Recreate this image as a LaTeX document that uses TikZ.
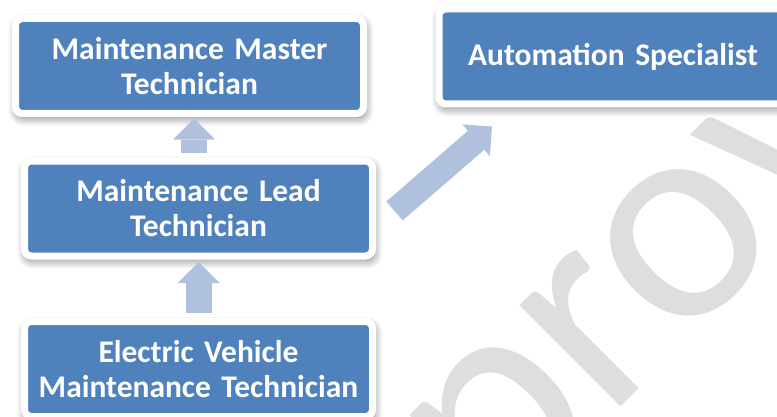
\documentclass[tikz,border=0pt]{standalone}
\usepackage{fontspec}
\setmainfont{Carlito}[WordSpace=0.75]
\usetikzlibrary{calc,arrows.meta,shadows.blur}
\definecolor{boxblue}{RGB}{79,129,189}
\definecolor{arrowblue}{RGB}{176,193,222}
\definecolor{wmgray}{RGB}{222,222,222}
\tikzset{
	jobbox/.style={draw=white, line width=7pt, fill=boxblue, rounded corners=7pt,
		minimum width=348pt, minimum height=95pt, inner sep=0pt, text width=340pt,
		align=center, text=white, font=\fontsize{31.5}{35}\selectfont\bfseries,
		blur shadow={shadow xshift=1.5pt, shadow yshift=-4pt, shadow blur radius=9pt,
			shadow blur steps=10, shadow opacity=55}},
	stepup/.style={draw=arrowblue, line width=26pt,
		-{Triangle[width=42pt, length=21pt, line width=0pt]}},
}

\begin{document}
\begin{tikzpicture}[x=1pt, y=1pt]
			%%%%% START %%%%%
			
			\path[use as bounding box, clip] (0, 0) rectangle (777, 416);
			
			% watermark
			\node[text=wmgray, rotate=45, anchor=base west, inner sep=0pt,
				font=\fontsize{300}{300}\selectfont] (stamp) at (262, -350) {Approved};
			
			\node[jobbox] (master) at (189.5, 350) {Maintenance Master\\Technician};
			\node[jobbox] (auto) at (613, 359.5) {Automation Specialist};
			\node[jobbox] (lead) at (198.5, 207.5) {Maintenance Lead\\Technician};
			\node[jobbox] (ev) at (198.5, 47) {Electric Vehicle\\Maintenance Technician};
			
			\coordinate (mid) at ($(lead.north)!0.5!(master.south)$);
			\coordinate (dtail) at ([xshift=18.5pt, yshift=-2.5pt]lead.east);
			\coordinate (dtip) at ([xshift=56.5pt, yshift=-19pt]auto.south west);
			
			\draw[stepup, shorten <=5pt, shorten >=1.5pt] (mid |- lead.north) -- (mid |- master.south);
			\draw[stepup, shorten <=5pt, shorten >=2.5pt] (ev.north) -- (lead.south);
			\draw[stepup, line width=25pt] (dtail) -- (dtip);
			
			%%%%% END %%%%%
\end{tikzpicture}
\end{document}
